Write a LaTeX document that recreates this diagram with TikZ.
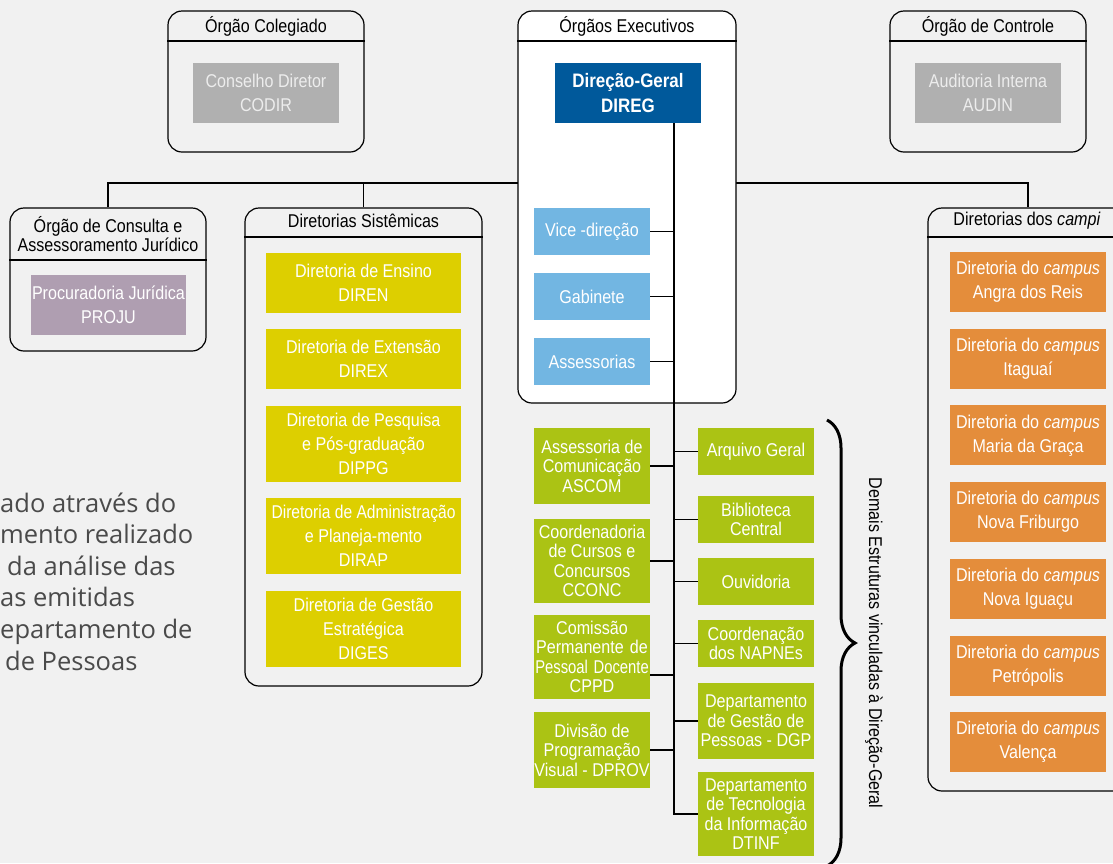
\documentclass[tikz,border=0pt]{standalone}
\usepackage{fontspec}
\usepackage{graphicx}
\setmainfont{Liberation Sans}[FakeStretch=0.87]
\newfontfamily\osans{Open Sans}
\usetikzlibrary{decorations.pathreplacing}
\definecolor{bgc}{HTML}{F1F1F1}
\definecolor{grayb}{HTML}{B0B0B0}
\definecolor{purb}{HTML}{AF9EB1}
\definecolor{diregc}{HTML}{00599B}
\definecolor{yelb}{HTML}{DDCF00}
\definecolor{blub}{HTML}{72B6E2}
\definecolor{grnb}{HTML}{ABC314}
\definecolor{orab}{HTML}{E48D3B}
\definecolor{partxt}{HTML}{4A4A4A}
\begin{document}
\begin{tikzpicture}[x=1pt,y=-1pt,
  panel/.style={draw=black, line width=1.2pt, rounded corners=14pt, inner sep=0pt},
  ptitle/.style={font=\fontsize{18.5}{19}\selectfont, text=black, align=center, inner sep=0pt},
  ibox/.style={inner sep=0pt, align=center, text=white, font=\fontsize{18.5}{24}\selectfont},
  graybox/.style={ibox, fill=grayb, text=white!93!black, minimum width=146pt, minimum height=60pt},
  yelbox/.style={ibox, fill=yelb, minimum width=195pt},
  blubox/.style={ibox, fill=blub, minimum width=116pt, minimum height=47pt},
  grnbox/.style={ibox, fill=grnb, minimum width=116pt, font=\fontsize{18.5}{19.5}\selectfont},
  orabox/.style={ibox, fill=orab, minimum width=156pt, minimum height=60pt},
  link/.style={draw=black, line width=1.2pt},
  partext/.style={anchor=base west, inner sep=0pt, text=partxt, font=\osans\fontsize{25.5}{30}\selectfont}
]
\path[use as bounding box] (0,0) rectangle (1113,863);
\clip (0,0) rectangle (1113,863);
\fill[bgc] (0,0) rectangle (1113,863);

% header line levels
\coordinate (h41) at (0,41);
\coordinate (h237) at (0,237);
\coordinate (h260) at (0,260);
\coordinate (bus) at (0,183);

% panels
\node[panel, minimum width=196pt, minimum height=141pt] (colegiado) at (266,81.5) {};
\node[panel, minimum width=196pt, minimum height=141pt] (controle) at (988,81.5) {};
\node[panel, minimum width=196pt, minimum height=143pt] (consulta) at (108,279.5) {};
\node[panel, minimum width=237pt, minimum height=478pt] (sistemicas) at (363.5,447) {};
\node[panel, minimum width=200pt, minimum height=583pt] (campi) at (1028,499.5) {};

% bus
\draw[link] (consulta.north) -- (consulta.north |- bus) -- (campi.north |- bus) -- (campi.north);
\draw[link] (sistemicas.north) -- (sistemicas.north |- bus);

\node[panel, fill=white, minimum width=218pt, minimum height=392pt] (executivos) at (627,207) {};

% titles and header lines
\node[ptitle] (t-colegiado) at (266,26) {Órgão Colegiado};
\node[ptitle] (t-executivos) at (627,26) {Órgãos Executivos};
\node[ptitle] (t-controle) at (988,26) {Órgão de Controle};
\node[ptitle] (t-consulta) at (108,234) {Órgão de Consulta e\\Assessoramento Jurídico};
\node[ptitle] (t-sistemicas) at (363.5,221) {Diretorias Sistêmicas};
\node[ptitle] (t-campi) at (1027,221) {Diretorias dos \textit{campi}};
\draw[link] (colegiado.west |- h41) -- (colegiado.east |- h41);
\draw[link] (controle.west |- h41) -- (controle.east |- h41);
\draw[link] (executivos.west |- h41) -- (executivos.east |- h41);
\draw[link] (consulta.west |- h260) -- (consulta.east |- h260);
\draw[link] (sistemicas.west |- h237) -- (sistemicas.east |- h237);
\draw[link] (campi.west |- h237) -- (campi.east |- h237);

% inner boxes
\node[graybox] (codir) at (266,93) {Conselho Diretor\\CODIR};
\node[graybox] (audin) at (988,93) {Auditoria Interna\\AUDIN};
\node[ibox, fill=diregc, minimum width=146pt, minimum height=60pt, font=\bfseries\fontsize{19.5}{25}\selectfont] (direg) at (628,93) {Direção-Geral\\DIREG};
\node[ibox, fill=purb, minimum width=155pt, minimum height=60pt] (proju) at (108.5,305) {Procuradoria Jurídica\\PROJU};

\node[yelbox, minimum height=60pt] (diren) at (363.5,283) {Diretoria de Ensino\\DIREN};
\node[yelbox, minimum height=60pt] (direx) at (363.5,359) {Diretoria de Extensão\\DIREX};
\node[yelbox, minimum height=76pt] (dippg) at (363.5,444) {Diretoria de Pesquisa\\e Pós-graduação\\DIPPG};
\node[yelbox, minimum height=76pt] (dirap) at (363.5,536) {\scalebox{0.97}[1]{Diretoria de Administração}\\e Planeja-mento\\DIRAP};
\node[yelbox, minimum height=76pt] (diges) at (363.5,629) {Diretoria de Gestão\\Estratégica\\DIGES};

\node[blubox] (vice) at (592,231.5) {Vice -direção};
\node[blubox] (gabinete) at (592,296.5) {Gabinete};
\node[blubox] (assessorias) at (592,361.5) {Assessorias};

\node[grnbox, minimum height=76pt] (ascom) at (592,466) {Assessoria de\\Comunicação\\ASCOM};
\node[grnbox, minimum height=84pt] (cconc) at (592,561) {Coordenadoria\\de Cursos e\\Concursos\\CCONC};
\node[grnbox, minimum height=84pt, text width=116pt] (cppd) at (592,657) {Comissão\\Permanente de\\\scalebox{0.92}[1]{Pessoal Docente}\\CPPD};
\node[grnbox, minimum height=76pt] (dprov) at (592,750) {Divisão de\\Programação\\Visual - DPROV};

\node[grnbox, minimum height=47pt] (arquivo) at (756,451.5) {Arquivo Geral};
\node[grnbox, minimum height=47pt] (biblioteca) at (756,519.5) {Biblioteca\\Central};
\node[grnbox, minimum height=47pt] (ouvidoria) at (756,581.5) {Ouvidoria};
\node[grnbox, minimum height=47pt] (napnes) at (756,643.5) {Coordenação\\dos NAPNEs};
\node[grnbox, minimum height=76pt] (dgp) at (756,721) {Departamento\\de Gestão de\\Pessoas - DGP};
\node[grnbox, minimum height=84pt] (dtinf) at (756,814) {Departamento\\de Tecnologia\\da Informação\\DTINF};

\node[orabox] (angra) at (1028,282) {Diretoria do \textit{campus}\\Angra dos Reis};
\node[orabox] (itaguai) at (1028,358.7) {Diretoria do \textit{campus}\\Itaguaí};
\node[orabox] (maria) at (1028,435.4) {Diretoria do \textit{campus}\\Maria da Graça};
\node[orabox] (friburgo) at (1028,512) {Diretoria do \textit{campus}\\Nova Friburgo};
\node[orabox] (iguacu) at (1028,588.8) {Diretoria do \textit{campus}\\Nova Iguaçu};
\node[orabox] (petropolis) at (1028,665.5) {Diretoria do \textit{campus}\\Petrópolis};
\node[orabox] (valenca) at (1028,742.2) {Diretoria do \textit{campus}\\Valença};

% trunk
\coordinate (trunk) at ([xshift=46pt]direg.south);
\draw[link] (trunk) |- (dtinf.west);
\foreach \n in {vice,gabinete,assessorias,ascom,cconc,dprov}
  \draw[link] (\n.east) -- (\n.east -| trunk);
\draw[link] ([yshift=-18pt]cppd.east) -- ([yshift=-18pt]cppd.east -| trunk);
\foreach \n in {arquivo,biblioteca,ouvidoria,napnes,dgp}
  \draw[link] (\n.west) -- (\n.west -| trunk);

% brace
\coordinate (bracetop) at (827,420);
\coordinate (bracebot) at (827,866);
\draw[line width=3pt, decorate, decoration={brace, amplitude=28pt}] (bracetop) -- (bracebot);
\node[rotate=-90, inner sep=0pt, font=\fontsize{18.5}{19}\selectfont] (demais) at (874,643) {Demais Estruturas vinculadas à Direção-Geral};

% clipped paragraph
\node[partext] (p1) at (0,512.7) {ado através do};
\node[partext] (p2) at (0,543.3) {mento realizado};
\node[partext] (p3) at (7,575) {da análise das};
\node[partext] (p4) at (0,606.7) {as emitidas};
\node[partext] (p5) at (0,638.3) {epartamento de};
\node[partext] (p6) at (5,670) {de Pessoas};
\end{tikzpicture}
\end{document}
